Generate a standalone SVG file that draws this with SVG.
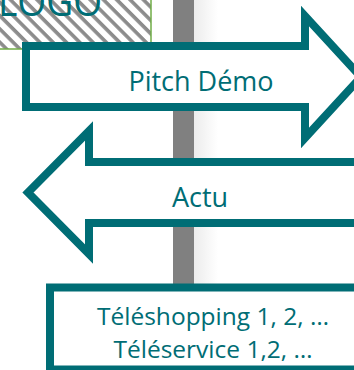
<svg xmlns="http://www.w3.org/2000/svg" width="354" height="370" viewBox="0 0 354 370">
  <style>
    .shape { fill: #ffffff; stroke: #006d75; stroke-width: 8; stroke-linejoin: miter; stroke-miterlimit: 10; }
    .lbl { font-family: "Open Sans", "Noto Sans", sans-serif; fill: #006d75; text-anchor: middle; }
  </style>
  <defs>
    <pattern id="hatch" patternUnits="userSpaceOnUse" width="10" height="9.4" patternTransform="rotate(45)">
      <rect x="0" y="0" width="10" height="9.4" fill="#ffffff"/>
      <rect x="0" y="0" width="10" height="3.6" fill="#8c8c8c"/>
    </pattern>
    <linearGradient id="shade" x1="0" y1="0" x2="1" y2="0">
      <stop offset="0" stop-color="#ececec"/>
      <stop offset="1" stop-color="#ffffff"/>
    </linearGradient>
  </defs>
  <rect x="0" y="0" width="354" height="370" fill="#ffffff"/>

  <g id="timeline">
    <rect x="194" y="0" width="24" height="370" fill="url(#shade)"/>
    <rect x="173" y="0" width="21" height="370" fill="#808080"/>
  </g>

  <g id="logo">
    <rect x="-5" y="-5" width="156" height="54" fill="url(#hatch)" stroke="#70ad47" stroke-width="1.5"/>
    <text x="-2" y="15.5" font-family="Open Sans, Noto Sans, sans-serif" font-size="40" fill="#006d75" textLength="104" lengthAdjust="spacingAndGlyphs">LOGO</text>
  </g>

  <g id="connectors"></g>

  <g id="pitch-demo">
    <path class="shape" d="M26,46 H305 V16 L361,77 L305,138 V107 H26 Z"/>
    <text class="lbl" x="201" y="91" font-size="27">Pitch Démo</text>
  </g>

  <g id="actu">
    <path class="shape" d="M362,162 H89 V131 L28,192.5 L89,254 V223 H362 Z"/>
    <text class="lbl" x="200" y="207" font-size="27">Actu</text>
  </g>

  <g id="teleshopping">
    <rect class="shape" x="50" y="287.5" width="320" height="82"/>
    <text class="lbl" x="213" y="325" font-size="24.5">Téléshopping 1, 2, …</text>
    <text class="lbl" x="213" y="358" font-size="24.5">Téléservice 1,2, …</text>
  </g>
</svg>
